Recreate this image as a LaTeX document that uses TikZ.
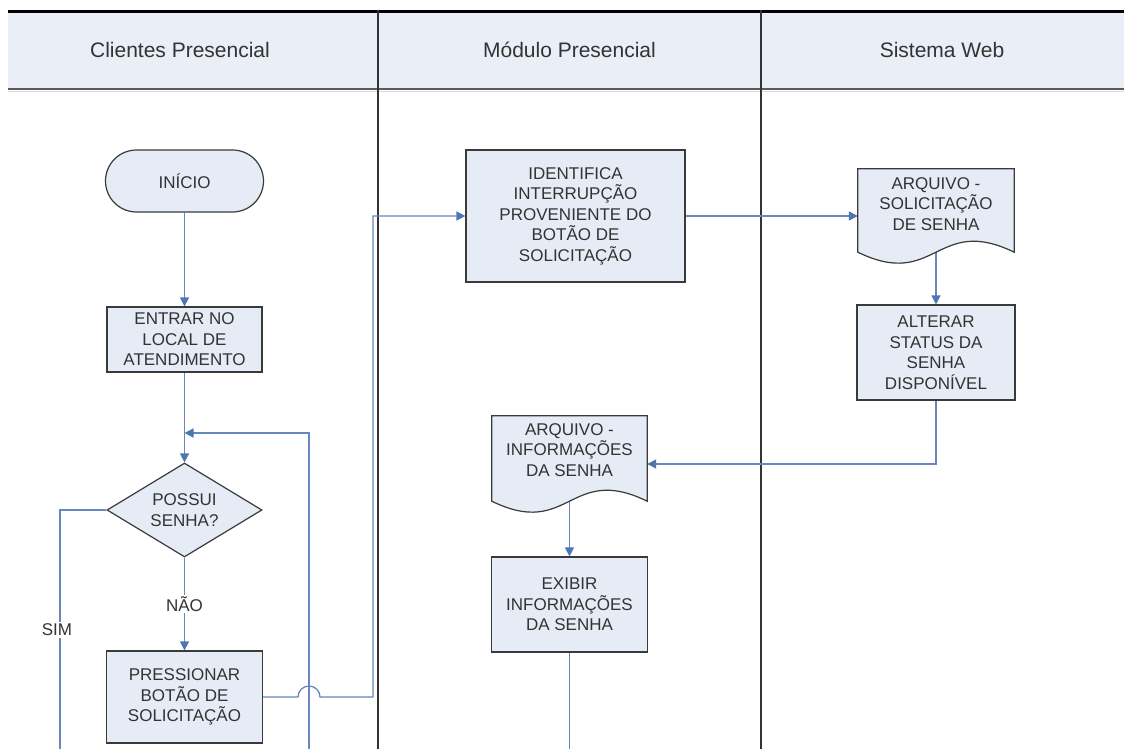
\documentclass[tikz,border=0pt]{standalone}
\usepackage{fontspec}
\setmainfont{Liberation Sans}
\usetikzlibrary{arrows.meta,shapes.geometric,calc}
\pgfdeclarelayer{lanes}
\pgfdeclarelayer{links}
\pgfsetlayers{lanes,links,main}
\definecolor{lanefill}{HTML}{E9EEF7}
\definecolor{boxfill}{HTML}{E6ECF5}
\definecolor{boxline}{HTML}{3A3A3A}
\definecolor{flowblue}{HTML}{6787BE}
\definecolor{tipblue}{HTML}{4E76B3}
\definecolor{ink}{HTML}{333333}

% document symbol: flat top, wavy bottom edge
\newcommand\docoutline[1]{%
  \path[docline] (#1.north west) -- (#1.north east)
    -- ($(#1.south east)+(0,11pt)$)
    .. controls ($(#1.south)+(0,49pt)$) and ($(#1.south)+(0,-27pt)$) ..
    ($(#1.south west)+(0,11pt)$) -- cycle;}

\begin{document}
\begin{tikzpicture}[x=1pt,y=-1pt,
  every node/.style={font=\fontsize{17}{20.5}\selectfont, text=ink, align=center},
  procbox/.style={rectangle, draw=boxline, fill=boxfill, line width=1.2pt, inner sep=0pt},
  termbox/.style={procbox, rounded corners=31pt},
  decision/.style={diamond, draw=boxline, fill=boxfill, line width=1.2pt, inner sep=0pt, aspect=1.65},
  docnode/.style={rectangle, inner sep=0pt},
  docline/.style={draw=boxline, fill=boxfill, line width=1.2pt},
  flow/.style={draw=flowblue, line width=1.3pt},
  arrowed/.style={flow, -{Triangle[length=9pt,width=9pt,color=tipblue]}},
  lanetitle/.style={font=\fontsize{21}{25}\selectfont, text=ink},
  edgelabel/.style={fill=white, inner sep=1.5pt}
]
\useasboundingbox (0,0) rectangle (1124,749);

% swimlane header and dividers
\begin{pgfonlayer}{lanes}
  \fill[white] (0,0) rectangle (1124,749);
  \fill[lanefill] (8,13) rectangle (1124,88);
  \draw[line width=3pt, black] (8,11.5) -- (1124,11.5);
  \draw[line width=1.5pt, color=black!65] (8,89) -- (1124,89);
  \draw[line width=1pt, color=black!15] (8,91.5) -- (1124,91.5);
  \draw[line width=1.6pt, color=ink] (378,10) -- (378,749);
  \draw[line width=1.6pt, color=ink] (761,10) -- (761,749);
\end{pgfonlayer}

\node[lanetitle] (lanecli) at (180,50) {Clientes Presencial};
\node[lanetitle] (lanemod) at (569.5,50) {Módulo Presencial};
\node[lanetitle] (laneweb) at (942,50) {Sistema Web};

% Clientes Presencial
\node[termbox, minimum width=158pt, minimum height=62pt] (inicio) at (184.5,181) {INÍCIO};
\node[procbox, minimum width=155pt, minimum height=65pt] (entrar) at (184.5,339.5) {ENTRAR NO\\LOCAL DE\\ATENDIMENTO};
\node[decision, minimum width=155pt, minimum height=94pt] (possui) at (184.5,510) {POSSUI\\SENHA?};
\node[procbox, minimum width=156pt, minimum height=92pt] (pressionar) at (184.5,697) {PRESSIONAR\\BOTÃO DE\\SOLICITAÇÃO};

% Módulo Presencial
\node[procbox, minimum width=219pt, minimum height=132pt] (identifica) at (575.5,216) {IDENTIFICA\\INTERRUPÇÃO\\PROVENIENTE DO\\BOTÃO DE\\SOLICITAÇÃO};
\node[docnode, minimum width=155pt, minimum height=96pt] (arqinf) at (569.5,464) {};
\docoutline{arqinf}
\node (arqinftxt) at (569.5,450) {ARQUIVO -\\INFORMAÇÕES\\DA SENHA};
\node[procbox, minimum width=156pt, minimum height=95pt] (exibir) at (569.5,604.5) {EXIBIR\\INFORMAÇÕES\\DA SENHA};

% Sistema Web
\node[docnode, minimum width=156pt, minimum height=94pt] (arqsol) at (936,216) {};
\docoutline{arqsol}
\node (arqsoltxt) at (936,204) {ARQUIVO -\\SOLICITAÇÃO\\DE SENHA};
\node[procbox, minimum width=158pt, minimum height=95pt] (alterar) at (936,352.5) {ALTERAR\\STATUS DA\\SENHA\\DISPONÍVEL};

% free ends and bends of the connectors
\coordinate (loopbot) at (309,749);
\coordinate (loopjoin) at (184.5,433);
\coordinate (simbot) at (60,749);
\coordinate (hopstart) at (298,697);
\coordinate (riser) at (373,697);
\coordinate (exibot) at (569.5,749);

\begin{pgfonlayer}{links}
  \draw[arrowed] (inicio.south) -- (entrar.north);
  \draw[arrowed] (entrar.south) -- (possui.north);
  \draw[arrowed] (loopbot) |- (loopjoin);
  \draw[arrowed] (possui.south) -- node[edgelabel] (naolabel) {NÃO} (pressionar.north);
  \draw[flow] (possui.west) -| node[edgelabel, pos=0.751, xshift=-3pt] (simlabel) {SIM} (simbot);
  \draw[arrowed] (pressionar.east) -- (hopstart)
      arc[start angle=180, end angle=0, radius=11pt] -- (riser) |- (identifica.west);
  \draw[arrowed] (identifica.east) -- (identifica.east -| arqsol.west);
  % the wavy edge crosses the middle 11pt above the south anchor
  \draw[arrowed] ([yshift=11pt]arqsol.south) -- (alterar.north);
  \draw[arrowed] (alterar.south) |- (arqinf.east);
  \draw[arrowed] ([yshift=11pt]arqinf.south) -- (exibir.north);
  \draw[flow] (exibir.south) -- (exibot);
\end{pgfonlayer}
\end{tikzpicture}
\end{document}
